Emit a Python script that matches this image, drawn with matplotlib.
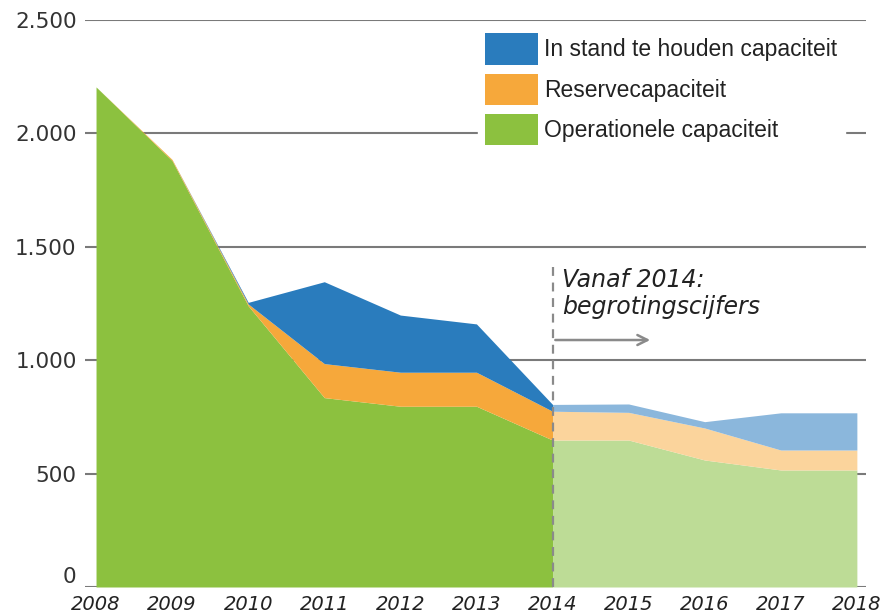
import matplotlib.pyplot as plt
import numpy as np
from matplotlib.patches import Patch

# jaren en capaciteit (gestapeld)
years = [2008, 2009, 2010, 2011, 2012, 2013, 2014, 2015, 2016, 2017, 2018]
operationeel = [2205, 1880, 1240, 835, 797, 797, 648, 648, 560, 516, 516]
reserve = [0, 5, 8, 150, 150, 150, 127, 122, 141, 88, 88]
in_stand = [0, 0, 7, 361, 252, 213, 30, 37, 28, 164, 164]

labels = ["In stand te houden capaciteit", "Reservecapaciteit", "Operationele capaciteit"]
y_ticks = [0, 500, 1000, 1500, 2000, 2500]
y_ticklabels = ["0", "500", "1.000", "1.500", "2.000", "2.500"]
split_year = 2014

dark = {'groen': '#8cc13f', 'oranje': '#f6a83b', 'blauw': '#2a7cbd'}
licht = {'groen': '#bddc96', 'oranje': '#fbd49c', 'blauw': '#8bb7dc'}

fig = plt.figure(figsize=(8.91, 6.16), dpi=100)
ax = fig.add_axes([85 / 891, 29 / 616, 781 / 891, 567 / 616])

x = np.array(years)
g = np.array(operationeel)
o = g + np.array(reserve)
b = o + np.array(in_stand)

# donker tot 2014, licht daarna (begroting)
for mask, kleuren in [(x <= split_year, dark), (x >= split_year, licht)]:
    ax.fill_between(x[mask], 0, g[mask], color=kleuren['groen'], lw=0, zorder=2)
    ax.fill_between(x[mask], g[mask], o[mask], color=kleuren['oranje'], lw=0, zorder=2)
    ax.fill_between(x[mask], o[mask], b[mask], color=kleuren['blauw'], lw=0, zorder=2)

ax.set_xlim(2007.855, 2018.12)
ax.set_ylim(0, 2500)
ax.set_yticks(y_ticks)
ax.set_yticklabels(y_ticklabels, fontsize=15.5, color='#333333', family='DejaVu Sans')
ax.set_xticks(years)
ax.set_xticklabels([str(j) for j in years], fontsize=14, style='italic', color='#222222')
ax.tick_params(axis='both', length=0)
ax.tick_params(axis='y', pad=6)
ax.tick_params(axis='x', pad=6)
for s in ax.spines.values():
    s.set_visible(False)
ax.grid(axis='y', color='#7a7a7a', lw=1.5, zorder=0)
ax.grid(axis='x', visible=False)
ax.set_axisbelow(True)

# "0" iets omhoog zodat hij niet tegen 2008 aan komt
ax.get_yticklabels()[0].set_va('bottom')

# begrotingsgrens
ax.plot([split_year, split_year], [0, 1433], color='#8a8a8a', lw=1.6, ls=(0, (4, 3)), zorder=3)
ax.annotate('', xy=(2015.32, 1089), xytext=(split_year, 1089),
            arrowprops=dict(arrowstyle='->', color='#8a8a8a', lw=1.8, mutation_scale=18), zorder=3)
ax.text(2014.13, 1408, 'Vanaf 2014:\nbegrotingscijfers', style='italic', fontsize=17,
        color='#222222', va='top', ha='left', linespacing=1.2)

handles = [Patch(facecolor=dark['blauw']), Patch(facecolor=dark['oranje']), Patch(facecolor=dark['groen'])]
leg = fig.legend(handles, labels, loc='upper left', bbox_to_anchor=(478 / 891, 1 - 26 / 616),
                 borderaxespad=0, borderpad=0.32, handlelength=2.3, handleheight=1.72,
                 handletextpad=0.28, labelspacing=0.4,
                 prop={'family': 'Liberation Sans', 'size': 16.5}, frameon=True, fancybox=False)
leg.get_frame().set_facecolor('white')
leg.get_frame().set_edgecolor('white')
leg.get_frame().set_alpha(1)
for t in leg.get_texts():
    t.set_color('#222222')

plt.savefig('out.png', dpi=100)
